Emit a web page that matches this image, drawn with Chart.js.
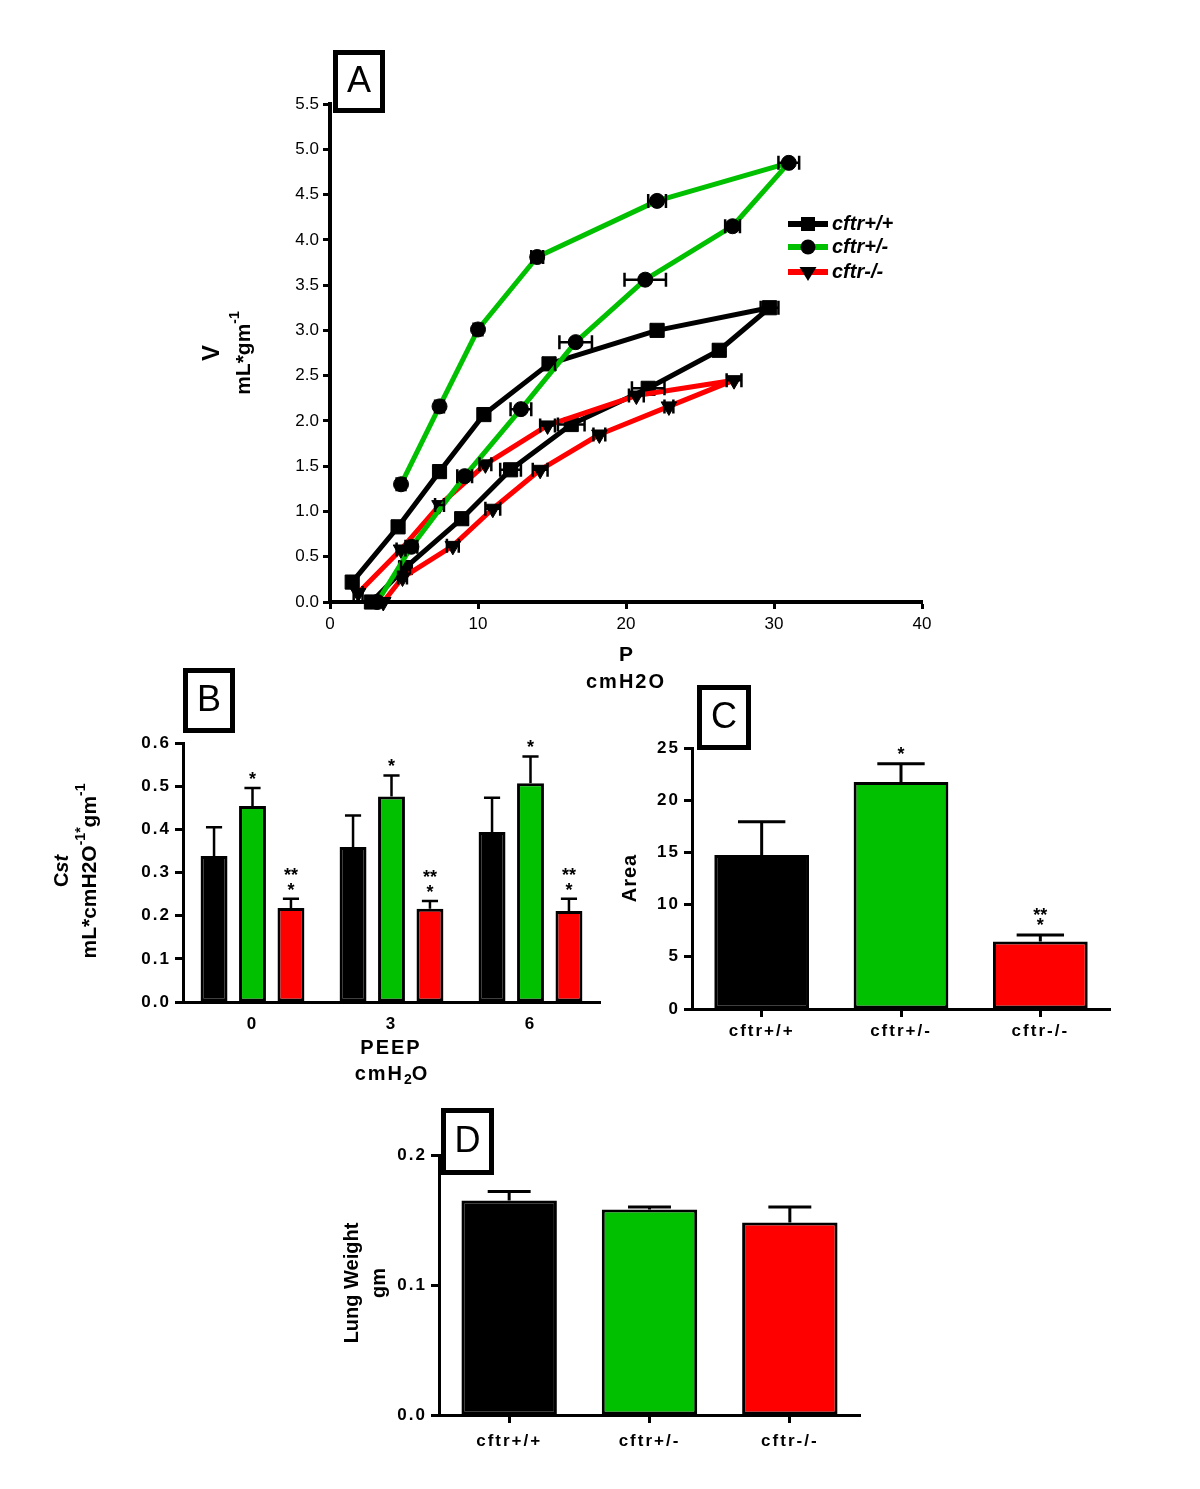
<!DOCTYPE html>
<html>
<head>
<meta charset="utf-8">
<script src="https://cdn.jsdelivr.net/npm/chart.js@4.4.1/dist/chart.umd.min.js"></script>
<style>
  html, body { margin: 0; padding: 0; background: #fff; }
  #fig { position: relative; width: 1200px; height: 1489px; }
  #fig canvas { position: absolute; left: 0; top: 0; pointer-events: none; }
</style>
</head>
<body>
<div id="fig">
  <canvas id="panelA" width="1200" height="1489"></canvas>
  <canvas id="panelB" width="1200" height="1489"></canvas>
  <canvas id="panelC" width="1200" height="1489"></canvas>
  <canvas id="panelD" width="1200" height="1489"></canvas>
</div>
<script>
// ---- A: pressure-volume loops (inflation limb, then deflation limb) ----
const wtP    = [2.8, 5.1, 8.9, 12.2, 16.3, 21.5, 26.3, 29.7, 22.1, 14.8, 10.4, 7.4, 4.6, 1.5];
const wtV    = [0.00, 0.38, 0.92, 1.46, 1.96, 2.36, 2.78, 3.25, 3.00, 2.63, 2.07, 1.44, 0.83, 0.22];
const wtPErr = [0.3, 0.3, 0.4, 0.7, 0.9, 1.1, 0.4, 0.6, 0.4, 0.4, 0.4, 0.3, 0.3, 0.3];

const hetP    = [3.2, 5.5, 9.1, 12.9, 16.6, 21.3, 27.2, 31.0, 22.1, 14.0, 10.0, 7.4, 4.8];
const hetV    = [0.00, 0.61, 1.39, 2.13, 2.87, 3.56, 4.15, 4.85, 4.43, 3.81, 3.01, 2.16, 1.30];
const hetPErr = [0.0, 0.4, 0.5, 0.7, 1.1, 1.4, 0.5, 0.7, 0.6, 0.4, 0.3, 0.3, 0.3];

const koP    = [3.6, 4.9, 8.3, 11.0, 14.2, 18.2, 22.9, 27.3, 20.7, 14.7, 10.5, 7.4, 4.8, 1.9];
const koV    = [0.00, 0.27, 0.62, 1.03, 1.46, 1.85, 2.16, 2.45, 2.28, 1.95, 1.52, 1.07, 0.58, 0.10];
const koPErr = [0.0, 0.3, 0.4, 0.5, 0.5, 0.4, 0.3, 0.5, 0.5, 0.5, 0.4, 0.3, 0.3, 0.3];

const genotypes = ['cftr+/+', 'cftr+/-', 'cftr-/-'];

// ---- B: static compliance vs PEEP ----
const peepLabels = ['0', '3', '6'];
const cstWt     = [0.338, 0.359, 0.394];
const cstWtSem  = [0.067, 0.073, 0.079];
const cstHet    = [0.454, 0.476, 0.507];
const cstHetSem = [0.042, 0.049, 0.062];
const cstKo     = [0.218, 0.216, 0.211];
const cstKoSem  = [0.021, 0.018, 0.028];
const cstHetStars = [['*'], ['*'], ['*']];
const cstKoStars  = [['**', '*'], ['**', '*'], ['**', '*']];

// ---- C: hysteresis area ----
const areaMean  = [14.75, 21.75, 6.46];
const areaSem   = [3.18, 1.75, 0.64];
const areaStars = [[], ['*'], ['**', '*']];

// ---- D: lung weight ----
const lungWt    = [0.165, 0.158, 0.148];
const lungWtSem = [0.007, 0.002, 0.012];

const FONT = "'Liberation Sans', Arial, Helvetica, sans-serif";
const GREEN = '#00c000', RED = '#ff0000', BLACK = '#000000';
const genoColors = [BLACK, GREEN, RED];

Chart.defaults.font.family = FONT;
Chart.defaults.color = '#000';

// plot areas in page pixels
const areaA = { left: 330, top: 104, right: 922, bottom: 602 };
const areaB = { left: 183, top: 743, right: 600, bottom: 1002 };
const areaC = { left: 692, top: 748, right: 1110, bottom: 1009 };
const areaD = { left: 439, top: 1155, right: 860, bottom: 1415 };

function padFor(a) {
    return { padding: { left: 0, top: a.top, right: 1200 - a.right, bottom: 0 } };
}

function richText(ctx, parts, cx, cy, rotate) {
    ctx.save();
    ctx.translate(cx, cy);
    if (rotate) ctx.rotate(-Math.PI / 2);
    ctx.fillStyle = '#000';
    ctx.textAlign = 'left';
    ctx.textBaseline = 'middle';
    let w = 0;
    parts.forEach(p => {
        ctx.font = p.font;
        ctx.letterSpacing = p.ls || '0px';
        p.w = ctx.measureText(p.text).width;
        w += p.w;
    });
    let x = -w / 2;
    parts.forEach(p => {
        ctx.font = p.font;
        ctx.letterSpacing = p.ls || '0px';
        ctx.fillText(p.text, x, p.dy || 0);
        x += p.w;
    });
    ctx.restore();
}

function labelBox(ctx, letter, x, y, w, h) {
    ctx.save();
    ctx.letterSpacing = '0px';
    ctx.fillStyle = '#fff';
    ctx.fillRect(x, y, w, h);
    ctx.lineWidth = 5;
    ctx.strokeStyle = '#000';
    ctx.strokeRect(x + 2.5, y + 2.5, w - 5, h - 5);
    ctx.fillStyle = '#000';
    ctx.font = '36px ' + FONT;
    ctx.textAlign = 'center';
    ctx.textBaseline = 'middle';
    ctx.fillText(letter, x + w / 2, y + h / 2 + 1);
    ctx.restore();
}

function marker(ctx, style, x, y) {
    ctx.beginPath();
    if (style === 'rect') ctx.rect(x - 7, y - 7, 14, 14);
    else if (style === 'circle') ctx.arc(x, y, 7.5, 0, Math.PI * 2);
    else { ctx.moveTo(x - 8.5, y - 5); ctx.lineTo(x + 8.5, y - 5); ctx.lineTo(x, y + 9); ctx.closePath(); }
    ctx.fill();
}

// ---------------- Panel A ----------------
function loopSet(label, xs, ys, errs, color, style, order) {
    return {
        label: label,
        data: xs.map((x, i) => ({ x: x, y: ys[i] })),
        xErr: errs,
        showLine: true,
        borderColor: color,
        borderWidth: 5,
        borderJoinStyle: 'round',
        backgroundColor: '#000',
        pointStyle: style,
        pointRadius: style === 'rect' ? 10 : (style === 'circle' ? 7.5 : 9),
        pointRotation: style === 'triangle' ? 180 : 0,
        pointBackgroundColor: '#000',
        pointBorderColor: '#000',
        pointBorderWidth: 1,
        tension: 0,
        clip: false,
        order: order
    };
}

const xErrorBars = {
    id: 'xErrorBars',
    afterDatasetsDraw(chart) {
        const ctx = chart.ctx, xs = chart.scales.x, ys = chart.scales.y;
        ctx.save();
        ctx.strokeStyle = '#000';
        ctx.lineWidth = 2.5;
        chart.data.datasets.forEach(ds => {
            ds.data.forEach((p, i) => {
                const e = ds.xErr[i];
                if (!e) return;
                const x1 = xs.getPixelForValue(p.x - e), x2 = xs.getPixelForValue(p.x + e);
                const y = ys.getPixelForValue(p.y);
                ctx.beginPath();
                ctx.moveTo(x1, y); ctx.lineTo(x2, y);
                ctx.moveTo(x1, y - 7); ctx.lineTo(x1, y + 7);
                ctx.moveTo(x2, y - 7); ctx.lineTo(x2, y + 7);
                ctx.stroke();
            });
        });
        ctx.restore();
    }
};

const decorA = {
    id: 'decorA',
    afterDraw(chart) {
        const ctx = chart.ctx;
        labelBox(ctx, 'A', 333, 50, 52, 63);
        richText(ctx, [{ text: 'P', font: 'bold 21px ' + FONT }], 626, 655);
        richText(ctx, [{ text: 'cmH2O', font: 'bold 20px ' + FONT, ls: '2px' }], 626, 682);
        richText(ctx, [{ text: 'V', font: 'bold 24px ' + FONT }], 212, 353, true);
        richText(ctx, [
            { text: 'mL*gm', font: 'bold 21px ' + FONT },
            { text: '-1', font: 'bold 14px ' + FONT, dy: -9 }
        ], 244, 353, true);
        // legend
        const rows = [224, 247, 272];
        const styles = ['rect', 'circle', 'triangle'];
        ctx.save();
        rows.forEach((y, i) => {
            ctx.strokeStyle = genoColors[i];
            ctx.lineWidth = 6;
            ctx.beginPath();
            ctx.moveTo(788, y); ctx.lineTo(828, y);
            ctx.stroke();
            ctx.fillStyle = '#000';
            marker(ctx, styles[i], 808, y);
            ctx.font = 'italic bold 20px ' + FONT;
            ctx.textAlign = 'left';
            ctx.textBaseline = 'middle';
            ctx.fillText(genotypes[i], 832, y);
        });
        ctx.restore();
    }
};

new Chart(document.getElementById('panelA'), {
    type: 'scatter',
    data: {
        datasets: [
            loopSet(genotypes[0], wtP, wtV, wtPErr, BLACK, 'rect', 2),
            loopSet(genotypes[1], hetP, hetV, hetPErr, GREEN, 'circle', 0),
            loopSet(genotypes[2], koP, koV, koPErr, RED, 'triangle', 1)
        ]
    },
    options: {
        responsive: false,
        animation: false,
        events: [],
        layout: padFor(areaA),
        plugins: { legend: { display: false }, tooltip: { enabled: false } },
        scales: {
            x: {
                type: 'linear', min: 0, max: 40,
                afterFit: s => { s.height = 1489 - areaA.bottom; },
                ticks: { stepSize: 10, font: { size: 17 }, padding: 5, color: '#000' },
                grid: { drawOnChartArea: false, tickLength: 7, tickWidth: 3, tickColor: '#000' },
                border: { color: '#000', width: 4 }
            },
            y: {
                type: 'linear', min: 0, max: 5.5,
                afterFit: s => { s.width = areaA.left; },
                ticks: { stepSize: 0.5, font: { size: 17 }, padding: 4, color: '#000',
                         callback: v => v.toFixed(1) },
                grid: { drawOnChartArea: false, tickLength: 7, tickWidth: 3, tickColor: '#000' },
                border: { color: '#000', width: 4 }
            }
        }
    },
    plugins: [xErrorBars, decorA]
});

// ---------------- bar panels ----------------
const spacing = {
    id: 'spacing',
    beforeInit(chart) { chart.ctx.letterSpacing = '2px'; },
    beforeDraw(chart) { chart.ctx.letterSpacing = '2px'; }
};

const barErr = {
    id: 'barErr',
    afterDatasetsDraw(chart, args, opts) {
        const ctx = chart.ctx, ys = chart.scales.y;
        ctx.save();
        ctx.letterSpacing = '0px';
        ctx.strokeStyle = '#000';
        ctx.fillStyle = '#000';
        ctx.lineWidth = opts.lineWidth;
        chart.data.datasets.forEach((ds, di) => {
            chart.getDatasetMeta(di).data.forEach((bar, i) => {
                const top = ys.getPixelForValue(ds.data[i] + ds.sem[i]);
                const half = bar.width * opts.capFrac / 2;
                ctx.beginPath();
                ctx.moveTo(bar.x, bar.y); ctx.lineTo(bar.x, top);
                ctx.moveTo(bar.x - half, top); ctx.lineTo(bar.x + half, top);
                ctx.stroke();
                const stars = ds.stars ? ds.stars[i] : [];
                ctx.font = 'bold 18px ' + FONT;
                ctx.textAlign = 'center';
                ctx.textBaseline = 'alphabetic';
                stars.slice().reverse().forEach((s, k) => {
                    const cy = top - opts.lift - k * opts.gap;
                    ctx.fillText(s, bar.x, cy + 10);
                });
            });
        });
        ctx.restore();
    }
};

function barScales(area, yMax, yStep, yDigits, xTickMarks, xPad) {
    return {
        x: {
            afterFit: s => { s.height = 1489 - area.bottom; },
            ticks: { font: { size: 17, weight: 'bold' }, padding: xPad, color: '#000' },
            grid: { drawOnChartArea: false, offset: false, tickLength: 8, tickWidth: 3,
                    tickColor: xTickMarks ? '#000' : 'rgba(0,0,0,0)' },
            border: { color: '#000', width: 3 }
        },
        y: {
            min: 0, max: yMax,
            afterFit: s => { s.width = area.left; },
            ticks: { stepSize: yStep, font: { size: 17, weight: 'bold' }, padding: 4, color: '#000',
                     callback: v => v.toFixed(yDigits) },
            grid: { drawOnChartArea: false, tickLength: 8, tickWidth: 3, tickColor: '#000' },
            border: { color: '#000', width: 3 }
        }
    };
}

function barSet(label, values, sem, stars, color, catPct, barPct) {
    return {
        label: label, data: values, sem: sem, stars: stars,
        backgroundColor: color, borderColor: '#000', borderWidth: 3, borderSkipped: false,
        categoryPercentage: catPct, barPercentage: barPct
    };
}

// ---------------- Panel B ----------------
const decorB = {
    id: 'decorB',
    afterDraw(chart) {
        const ctx = chart.ctx;
        labelBox(ctx, 'B', 183, 668, 52, 65);
        richText(ctx, [
            { text: 'C', font: 'bold 20px ' + FONT },
            { text: 'st', font: 'italic bold 20px ' + FONT }
        ], 62, 871, true);
        richText(ctx, [
            { text: 'mL*cmH2O', font: 'bold 21px ' + FONT },
            { text: '-1*', font: 'bold 14px ' + FONT, dy: -9 },
            { text: 'gm', font: 'bold 21px ' + FONT },
            { text: '-1', font: 'bold 14px ' + FONT, dy: -9 }
        ], 90, 871, true);
        richText(ctx, [{ text: 'PEEP', font: 'bold 20px ' + FONT, ls: '2px' }], 391, 1048);
        richText(ctx, [
            { text: 'cmH', font: 'bold 20px ' + FONT, ls: '2px' },
            { text: '2', font: 'bold 14px ' + FONT, dy: 6 },
            { text: 'O', font: 'bold 20px ' + FONT }
        ], 391, 1074);
    }
};

new Chart(document.getElementById('panelB'), {
    type: 'bar',
    data: {
        labels: peepLabels,
        datasets: [
            barSet(genotypes[0], cstWt, cstWtSem, null, BLACK, 0.83, 0.70),
            barSet(genotypes[1], cstHet, cstHetSem, cstHetStars, GREEN, 0.83, 0.70),
            barSet(genotypes[2], cstKo, cstKoSem, cstKoStars, RED, 0.83, 0.70)
        ]
    },
    options: {
        responsive: false,
        animation: false,
        events: [],
        layout: padFor(areaB),
        plugins: {
            legend: { display: false }, tooltip: { enabled: false },
            barErr: { capFrac: 0.6, lift: 13, gap: 15, lineWidth: 2.5 }
        },
        scales: barScales(areaB, 0.6, 0.1, 1, false, 4)
    },
    plugins: [spacing, barErr, decorB]
});

// ---------------- Panel C ----------------
const decorC = {
    id: 'decorC',
    afterDraw(chart) {
        const ctx = chart.ctx;
        labelBox(ctx, 'C', 697, 685, 54, 65);
        richText(ctx, [{ text: 'Area', font: 'bold 20px ' + FONT, ls: '1px' }], 630, 878, true);
    }
};

new Chart(document.getElementById('panelC'), {
    type: 'bar',
    data: {
        labels: genotypes,
        datasets: [barSet('Area', areaMean, areaSem, areaStars, genoColors, 0.68, 1.0)]
    },
    options: {
        responsive: false,
        animation: false,
        events: [],
        layout: padFor(areaC),
        plugins: {
            legend: { display: false }, tooltip: { enabled: false },
            barErr: { capFrac: 0.5, lift: 14, gap: 10, lineWidth: 3 }
        },
        scales: barScales(areaC, 25, 5, 0, true, 4)
    },
    plugins: [spacing, barErr, decorC]
});

// ---------------- Panel D ----------------
const decorD = {
    id: 'decorD',
    afterDraw(chart) {
        const ctx = chart.ctx;
        labelBox(ctx, 'D', 441, 1108, 53, 67);
        richText(ctx, [{ text: 'Lung Weight', font: 'bold 20px ' + FONT }], 352, 1283, true);
        richText(ctx, [{ text: 'gm', font: 'bold 20px ' + FONT }], 379, 1283, true);
    }
};

new Chart(document.getElementById('panelD'), {
    type: 'bar',
    data: {
        labels: genotypes,
        datasets: [barSet('Lung Weight', lungWt, lungWtSem, null, genoColors, 0.68, 1.0)]
    },
    options: {
        responsive: false,
        animation: false,
        events: [],
        layout: padFor(areaD),
        plugins: {
            legend: { display: false }, tooltip: { enabled: false },
            barErr: { capFrac: 0.45, lift: 14, gap: 10, lineWidth: 3 }
        },
        scales: barScales(areaD, 0.2, 0.1, 1, true, 8)
    },
    plugins: [spacing, barErr, decorD]
});
</script>
</body>
</html>
